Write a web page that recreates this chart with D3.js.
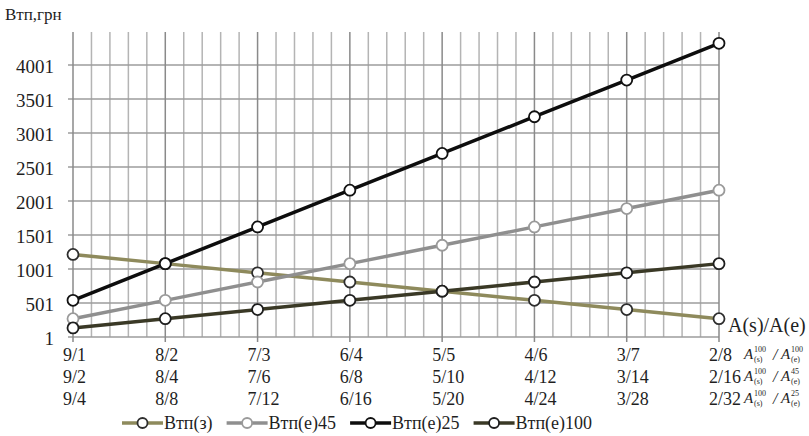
<!DOCTYPE html>
<html>
<head>
<meta charset="utf-8">
<script src="https://cdn.jsdelivr.net/npm/d3@7"></script>
<style>
  html, body { margin: 0; padding: 0; background: #fff; }
  svg { display: block; font-family: "Liberation Serif", "Times New Roman", serif; }
</style>
</head>
<body>
<svg id="chart" width="809" height="436"></svg>
<script>
// Category labels: three rows of A(s)/A(e) ratios for each step
const rowE100 = ["9/1", "8/2", "7/3", "6/4", "5/5", "4/6", "3/7", "2/8"];
const rowE45  = ["9/2", "8/4", "7/6", "6/8", "5/10", "4/12", "3/14", "2/16"];
const rowE25  = ["9/4", "8/8", "7/12", "6/16", "5/20", "4/24", "3/28", "2/32"];

// Y axis tick values (грн)
const yTicks = [1, 501, 1001, 1501, 2001, 2501, 3001, 3501, 4001];

// Series values, грн
const seriesNames = ["Втп(з)", "Втп(е)45", "Втп(е)25", "Втп(е)100"];
const vtpS    = [1215, 1080, 945, 810, 675, 540, 405, 270];
const vtpE45  = [270, 540, 810, 1080, 1350, 1620, 1890, 2160];
const vtpE25  = [540, 1080, 1620, 2160, 2700, 3240, 3780, 4320];
const vtpE100 = [135, 270, 405, 540, 675, 810, 945, 1080];

const series = [
  { name: seriesNames[0], values: vtpS,    line: "#8e8a5c", marker: "#2e2e2e" },
  { name: seriesNames[1], values: vtpE45,  line: "#8f8f8f", marker: "#9a9a9a" },
  { name: seriesNames[2], values: vtpE25,  line: "#0d0d0d", marker: "#111111" },
  { name: seriesNames[3], values: vtpE100, line: "#3a3926", marker: "#1e1e1e" }
];

const svg = d3.select("#chart");
const textColor = "#1f1f1f";

const plot = { left: 73, right: 719, top: 31, bottom: 337 };

const x = d3.scalePoint().domain(rowE100).range([plot.left, plot.right]);
const xi = d3.scaleLinear().domain([0, rowE100.length - 1]).range([plot.left, plot.right]);
const y = d3.scaleLinear().domain([1, 4501]).range([plot.bottom, plot.top]);

// Grid
const grid = svg.append("g");
const minorSteps = d3.range(0, (rowE100.length - 1) * 5 + 1).map(i => i / 5);
grid.selectAll("line.vminor")
  .data(minorSteps.filter(d => Math.abs(d - Math.round(d)) > 1e-6))
  .join("line")
  .attr("x1", d => xi(d)).attr("x2", d => xi(d))
  .attr("y1", plot.top + 1).attr("y2", plot.bottom)
  .attr("stroke", "#b4b4b4").attr("stroke-width", 1.5);

grid.selectAll("line.h")
  .data(yTicks)
  .join("line")
  .attr("x1", plot.left - 5).attr("x2", plot.right)
  .attr("y1", d => y(d)).attr("y2", d => y(d))
  .attr("stroke", "#9c9c9c").attr("stroke-width", 1.5);

grid.selectAll("line.vmajor")
  .data(rowE100)
  .join("line")
  .attr("x1", d => x(d)).attr("x2", d => x(d))
  .attr("y1", plot.top + 1).attr("y2", plot.bottom + 5)
  .attr("stroke", "#8a8a8a").attr("stroke-width", 1.5);

// Y axis labels
const yAxis = d3.axisLeft(y).tickValues(yTicks).tickFormat(d3.format("d")).tickSize(0).tickPadding(0);
const yg = svg.append("g").attr("transform", `translate(${plot.left - 19},0)`).call(yAxis);
yg.attr("font-family", null);
yg.select(".domain").remove();
yg.selectAll("text")
  .attr("font-size", 19).attr("fill", textColor)
  .attr("dy", "0.42em");

// Category label rows
const rows = [rowE100, rowE45, rowE25];
const rowBase = [361, 383, 405];
rows.forEach((row, r) => {
  svg.append("g").selectAll("text")
    .data(row)
    .join("text")
    .attr("x", (d, i) => x(rowE100[i]) - 10)
    .attr("y", rowBase[r])
    .attr("font-size", 18)
    .attr("fill", textColor)
    .text(d => d);
});

// Series lines and markers
const line = d3.line().x((d, i) => x(rowE100[i])).y(d => y(d));
series.forEach(s => {
  svg.append("path")
    .datum(s.values)
    .attr("d", line)
    .attr("fill", "none")
    .attr("stroke", s.line)
    .attr("stroke-width", 3.5)
    .attr("stroke-linejoin", "round");
});
series.forEach(s => {
  svg.append("g").selectAll("circle")
    .data(s.values)
    .join("circle")
    .attr("cx", (d, i) => x(rowE100[i]))
    .attr("cy", d => y(d))
    .attr("r", 5.5)
    .attr("fill", "#fff")
    .attr("stroke", s.marker)
    .attr("stroke-width", 1.8);
});

// Axis titles
svg.append("text")
  .attr("x", 5).attr("y", 20)
  .attr("font-size", 17).attr("fill", textColor)
  .text("Втп,грн");

svg.append("text")
  .attr("x", 728).attr("y", 332)
  .attr("font-size", 20).attr("fill", textColor)
  .text("A(s)/A(e)");

// Ratio formulas beside the last column
const formulaSup = ["100", "45", "25"];
rowBase.forEach((b, r) => {
  const g = svg.append("g").attr("transform", `translate(744,${b - 2})`)
    .attr("fill", textColor).attr("font-style", "italic");
  const part = (x0, sup, sub) => {
    g.append("text").attr("x", x0).attr("y", 0).attr("font-size", 15).text("A");
    g.append("text").attr("x", x0 + 10).attr("y", -7).attr("font-size", 8).attr("font-style", "normal").text(sup);
    g.append("text").attr("x", x0 + 10).attr("y", 3).attr("font-size", 8).attr("font-style", "normal").text(sub);
  };
  part(0, "100", "(s)");
  g.append("text").attr("x", 29).attr("y", 1).attr("font-size", 16).text("/");
  part(37, formulaSup[r], "(e)");
});

// Legend
const legend = svg.append("g");
let lx = 122;
const ly = 423;
series.forEach(s => {
  const it = legend.append("g");
  it.append("line")
    .attr("x1", lx).attr("x2", lx + 41)
    .attr("y1", ly).attr("y2", ly)
    .attr("stroke", s.line).attr("stroke-width", 3.5);
  it.append("circle")
    .attr("cx", lx + 20.5).attr("cy", ly).attr("r", 5)
    .attr("fill", "#fff").attr("stroke", s.marker).attr("stroke-width", 1.8);
  const t = it.append("text")
    .attr("x", lx + 42).attr("y", ly + 6)
    .attr("font-size", 18).attr("fill", textColor)
    .text(s.name);
  lx += 42 + t.node().getComputedTextLength() + 14;
});
</script>
</body>
</html>
